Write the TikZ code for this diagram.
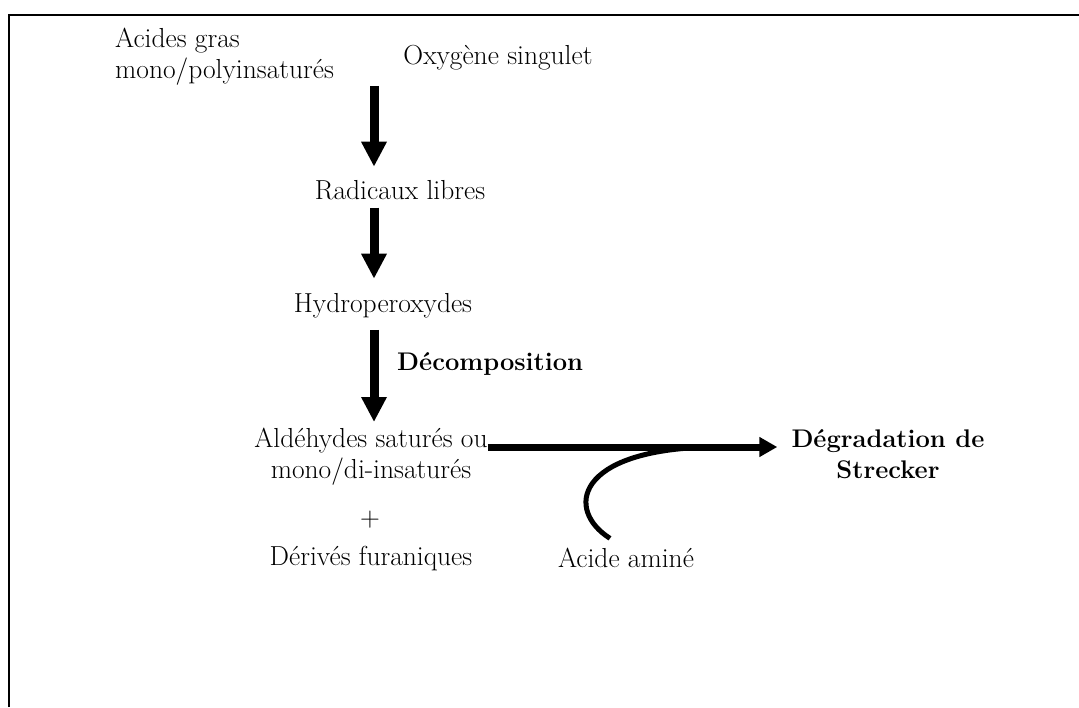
\documentclass[tikz,border=0pt]{standalone}
\usetikzlibrary{arrows.meta}

\begin{document}
\begin{tikzpicture}[x=1pt,y=1pt,
	every node/.style={inner sep=0pt,font=\fontsize{27.5}{31}\selectfont},
	gras/.style={font=\fontsize{25.5}{31}\selectfont\bfseries},
	fleche/.style={line width=9pt,-{Triangle[length=25pt,width=24pt]}},
	flechefine/.style={line width=7pt,-{Triangle[length=18pt,width=19pt]}}]
	\useasboundingbox (0,0) rectangle (1079,-707);
	\draw[line width=2pt] (9,-707) -- (9,-15) -- (1079,-15);
	\coordinate (axe) at (374,0);
	\node[anchor=north west,align=left] (acides) at (115,-28) {Acides gras\\mono/polyinsaturés};
	\node[anchor=base] (oxygene) at (498,-64) {Oxygène singulet};
	\node[anchor=base] (radicaux) at (400,-199) {Radicaux libres};
	\node[anchor=base] (hydro) at (383,-312) {Hydroperoxydes};
	\node[gras,anchor=base west] (decomp) at (397,-370) {Décomposition};
	\node[anchor=north,align=center] (aldehydes) at (371,-428) {Aldéhydes saturés ou\\mono/di-insaturés};
	\node (plus) at (370,-520) {+};
	\node[anchor=base] (derives) at (371,-565) {Dérivés furaniques};
	\node[anchor=base] (acide) at (626,-567) {Acide aminé};
	\node[gras,anchor=north,align=center] (strecker) at (888,-429) {Dégradation de\\Strecker};
	\coordinate (jonction) at (710,-447);
	\draw[fleche,shorten <=16pt,shorten >=13pt] (oxygene.south -| axe) -- (radicaux.north -| axe);
	\draw[fleche,shorten <=8pt,shorten >=14pt] (radicaux.south -| axe) -- (hydro.north -| axe);
	\draw[fleche,shorten <=12pt,shorten >=6pt] (hydro.south -| axe) -- (aldehydes.north -| axe);
	\draw[flechefine,shorten >=14pt] (aldehydes.east |- jonction) -- (strecker.west |- jonction);
	\draw[line width=5pt] ([xshift=-16pt,yshift=9pt]acide.north) .. controls (565,-510) and (575,-450) .. (jonction);
\end{tikzpicture}
\end{document}
